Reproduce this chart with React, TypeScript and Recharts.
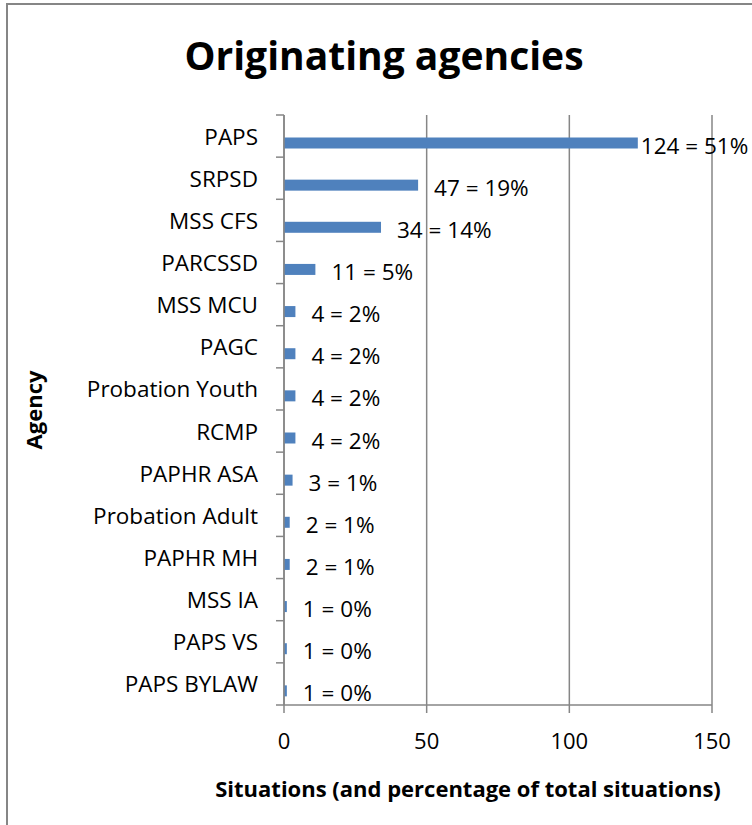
import React from "react";
import { Bar, BarChart, CartesianGrid, Label, LabelList, XAxis, YAxis } from "recharts";

const agencies = [
  "PAPS",
  "SRPSD",
  "MSS CFS",
  "PARCSSD",
  "MSS MCU",
  "PAGC",
  "Probation Youth",
  "RCMP",
  "PAPHR ASA",
  "Probation Adult",
  "PAPHR MH",
  "MSS IA",
  "PAPS VS",
  "PAPS BYLAW",
];
const situations = [124, 47, 34, 11, 4, 4, 4, 4, 3, 2, 2, 1, 1, 1];
const percents = [51, 19, 14, 5, 2, 2, 2, 2, 1, 1, 1, 0, 0, 0];
const xTicks = [0, 50, 100, 150];

const W = 752;
const H = 825;
const PLOT_LEFT = 284;
const PLOT_TOP = 115;
const PLOT_BOTTOM = 705;
const BAND = (PLOT_BOTTOM - PLOT_TOP) / agencies.length;
const BAR_SHIFT = 6.5;
const AXIS = "#868686";
const BLUE = "#4F81BD";
const FONT = "'Open Sans', sans-serif";
const TEXT_SIZE = 22.5;

const rows = agencies.map((agency, i) => ({
  agency,
  count: situations[i],
  text: `${situations[i]} = ${percents[i]}%`,
}));

// bars sit in the lower half of each category band, like the original
const ShiftedBar = (props: any) => {
  const { x, y, width, height } = props;
  if (!width || width <= 0) return null;
  return <rect x={x} y={y + BAR_SHIFT} width={width} height={height} fill={BLUE} />;
};

const ValueLabel = (props: any) => {
  const { x, y, width, height, value } = props;
  const gap = width > 300 ? 3 : 16;
  return (
    <text
      x={x + width + gap}
      y={y + BAR_SHIFT + height / 2 + 2}
      dominantBaseline="central"
      fontSize={TEXT_SIZE}
      fontFamily={FONT}
      fill="#000"
    >
      {value}
    </text>
  );
};

const AgencyTick = (props: any) => {
  const { y, payload, index } = props;
  return (
    <g>
      <line x1={PLOT_LEFT - 8} x2={PLOT_LEFT} y1={y - BAND / 2} y2={y - BAND / 2} stroke={AXIS} strokeWidth={1.5} />
      {index === agencies.length - 1 && (
        <line x1={PLOT_LEFT - 8} x2={PLOT_LEFT} y1={y + BAND / 2} y2={y + BAND / 2} stroke={AXIS} strokeWidth={1.5} />
      )}
      <text x={258} y={y} textAnchor="end" dominantBaseline="central" fontSize={TEXT_SIZE} fontFamily={FONT} fill="#000">
        {payload.value}
      </text>
    </g>
  );
};

export default function App() {
  return (
    <div style={{ position: "absolute", left: 0, top: 0, width: W, height: H, overflow: "hidden", background: "#fff" }}>
      <BarChart
        width={W}
        height={H}
        data={rows}
        layout="vertical"
        margin={{ top: PLOT_TOP, right: 40, bottom: 0, left: 0 }}
        barSize={11}
      >
        <CartesianGrid horizontal={false} stroke={AXIS} strokeWidth={1.5} />
        <XAxis
          type="number"
          domain={[0, 150]}
          ticks={xTicks}
          height={H - PLOT_BOTTOM}
          tickSize={8}
          tickMargin={20}
          axisLine={{ stroke: AXIS, strokeWidth: 1.5 }}
          tickLine={{ stroke: AXIS, strokeWidth: 1.5 }}
          tick={{ fontSize: 22, fontFamily: FONT, fill: "#000" }}
        >
          <Label
            content={() => (
              <text x={468} y={797} textAnchor="middle" fontSize={22} fontWeight="bold" fontFamily={FONT} fill="#000">
                Situations (and percentage of total situations)
              </text>
            )}
          />
        </XAxis>
        <YAxis
          type="category"
          dataKey="agency"
          width={PLOT_LEFT}
          interval={0}
          tickLine={false}
          axisLine={{ stroke: AXIS, strokeWidth: 1.5 }}
          tick={<AgencyTick />}
        />
        <Bar dataKey="count" shape={<ShiftedBar />} isAnimationActive={false}>
          <LabelList dataKey="text" content={<ValueLabel />} />
        </Bar>
      </BarChart>
      <svg width={W} height={H} style={{ position: "absolute", left: 0, top: 0, pointerEvents: "none" }}>
        <path d={`M7,${H} L7,4 L${W},4`} fill="none" stroke={AXIS} strokeWidth={2} />
        <text x={384} y={70} textAnchor="middle" fontSize={39} fontWeight="bold" fontFamily={FONT} fill="#000">
          Originating agencies
        </text>
        <text
          transform="translate(42,410) rotate(-90)"
          textAnchor="middle"
          fontSize={22}
          fontWeight="bold"
          fontFamily={FONT}
          fill="#000"
        >
          Agency
        </text>
      </svg>
    </div>
  );
}
